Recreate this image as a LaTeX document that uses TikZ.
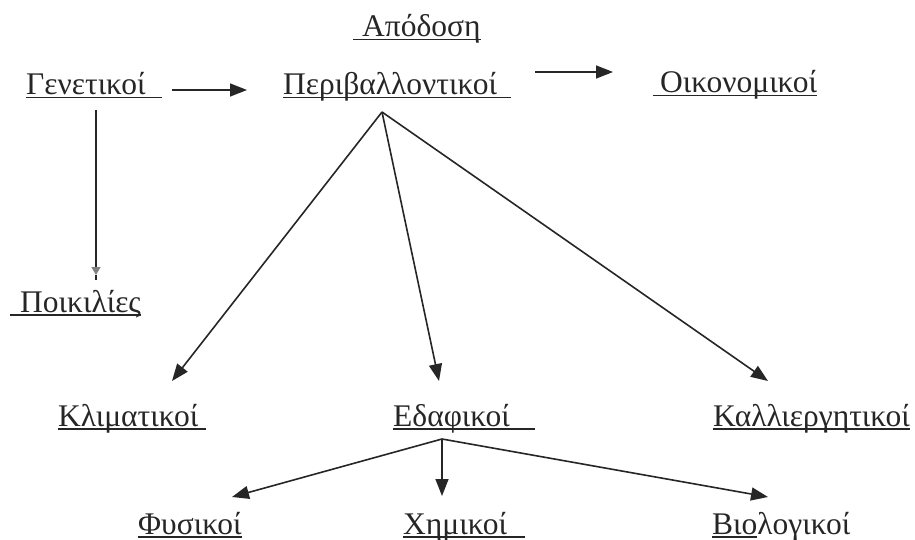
\documentclass[tikz,border=0pt]{standalone}
\usepackage{fontspec}
\setmainfont{Liberation Serif}
\usetikzlibrary{arrows.meta}
\def\myul#1{\setbox0\hbox{#1}\rlap{\rule[-3.5pt]{\wd0}{1.5pt}}\box0}
\tikzset{
  lbl/.style={anchor=base west, inner sep=0pt, font=\fontsize{31.5}{34}\selectfont, text=black!85},
  arr/.style={line width=1.6pt, draw=black!85, -{Triangle[length=17pt,width=13pt]}},
  smallarr/.style={line width=1.6pt, draw=black!85, -{Triangle[length=8pt,width=9pt,color=black!50,fill=black!50]}}
}
\begin{document}
\begin{tikzpicture}[x=1pt,y=-1pt]
\useasboundingbox (0,0) rectangle (915,540);
% labels
\node[lbl] (apo) at (353,37) {\myul{\hspace{9pt}Απόδοση}};
\node[lbl] (gen) at (26,95) {\myul{Γενετικοί\hspace{16pt}}};
\node[lbl] (per) at (283,95) {\myul{Περιβαλλοντικοί\hspace{14pt}}};
\node[lbl] (oik) at (653,93) {\myul{\hspace{7pt}Οικονομικοί}};
\node[lbl] (poik) at (10,312) {\myul{\hspace{10pt}Ποικιλίες}};
\node[lbl] (klim) at (58,426) {\myul{Κλιματικοί\hspace{8pt}}};
\node[lbl] (edaf) at (393,426) {\myul{Εδαφικοί\hspace{25pt}}};
\node[lbl] (kall) at (713,426) {\myul{Καλλιεργητικοί}};
\node[lbl] (fys) at (138,534) {\myul{Φυσικοί}};
\node[lbl] (xim) at (403,534) {\myul{Χημικοί\hspace{18pt}}};
\node[lbl] (bio) at (712,534) {\myul{Βιο}λογικοί};
% connector points
\coordinate (genR) at (172,90);
\coordinate (perL) at (247,90);
\coordinate (perR) at (535,72);
\coordinate (oikL) at (613,72);
\coordinate (genB) at (96,110);
\coordinate (poikT) at (96,275);
\coordinate (perApex) at (382,112);
\coordinate (klimT) at (172,381);
\coordinate (edafT) at (439,381);
\coordinate (kallT) at (768,381);
\coordinate (edApex) at (442,439);
\coordinate (fysT) at (232,497);
\coordinate (ximT) at (442,496);
\coordinate (bioT) at (768,497);
% connectors
\draw[arr] (genR) -- (perL);
\draw[arr] (perR) -- (oikL);
\draw[smallarr] (genB) -- (poikT);
\draw[line width=1.6pt, draw=black!85] (poikT) -- ++(0,5);
\draw[arr] (perApex) -- (klimT);
\draw[arr] (perApex) -- (edafT);
\draw[arr] (perApex) -- (kallT);
\draw[arr] (edApex) -- (fysT);
\draw[arr] (edApex) -- (ximT);
\draw[arr] (edApex) -- (bioT);
\end{tikzpicture}
\end{document}
